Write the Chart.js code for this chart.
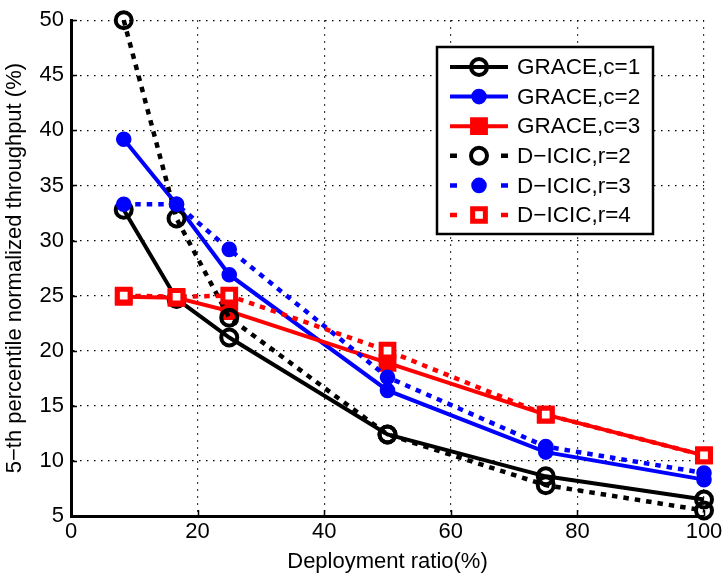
<!DOCTYPE html>
<html>
<head>
<meta charset="utf-8">
<script src="https://cdn.jsdelivr.net/npm/chart.js@4.4.1/dist/chart.umd.min.js"></script>
<style>
  html, body { margin: 0; padding: 0; background: #fff; }
  #wrap { width: 726px; height: 577px; }
</style>
</head>
<body>
<div id="wrap"><canvas id="c" width="726" height="577"></canvas></div>
<script>
// Deployment ratio (%) at which each scheme was evaluated
const deploymentRatio = [8.33, 16.67, 25, 50, 75, 100];

// 5-th percentile normalized throughput (%)
const graceC1 = [32.8, 24.7, 21.2, 12.4, 8.6, 6.5];
const graceC2 = [39.2, 33.3, 26.9, 16.4, 10.8, 8.3];
const graceC3 = [24.9, 24.8, 23.6, 18.9, 14.2, 10.5];
const dicicR2 = [50.0, 32.0, 23.0, 12.4, 7.8, 5.5];
const dicicR3 = [33.3, 33.3, 29.2, 17.6, 11.3, 8.9];
const dicicR4 = [25.0, 24.9, 25.0, 20.0, 14.2, 10.5];

const seriesNames = ['GRACE,c=1', 'GRACE,c=2', 'GRACE,c=3', 'D\u2212ICIC,r=2', 'D\u2212ICIC,r=3', 'D\u2212ICIC,r=4'];

const xTicks = [0, 20, 40, 60, 80, 100];
const yTicks = [5, 10, 15, 20, 25, 30, 35, 40, 45, 50];

const FONT = '"Liberation Sans", Arial, Helvetica, sans-serif';
const DOT = [5.5, 6];

function pts(ys) {
  return deploymentRatio.map((x, i) => ({ x: x, y: ys[i] }));
}

function series(label, ys, color, dashed, style, fill, radius, bw, order) {
  return {
    label: label,
    data: pts(ys),
    showLine: true,
    borderColor: color,
    borderWidth: dashed ? 4.5 : 4,
    borderDash: dashed ? DOT : [],
    borderCapStyle: 'butt',
    borderJoinStyle: 'miter',
    tension: 0,
    pointStyle: style,
    pointRadius: radius,
    pointHoverRadius: radius,
    pointBorderWidth: bw,
    pointBorderColor: color,
    pointBackgroundColor: fill,
    clip: false,
    order: order,
    dotted: dashed
  };
}

const datasets = [
  series(seriesNames[0], graceC1, '#000000', false, 'circle', 'rgba(0,0,0,0)', 8, 4, 6),
  series(seriesNames[1], graceC2, '#0000ff', false, 'circle', '#0000ff', 6.8, 2, 5),
  series(seriesNames[2], graceC3, '#ff0000', false, 'rect', '#ff0000', 10.5, 3, 4),
  series(seriesNames[3], dicicR2, '#000000', true, 'circle', 'rgba(0,0,0,0)', 8, 4, 3),
  series(seriesNames[4], dicicR3, '#0000ff', true, 'circle', '#0000ff', 6.8, 2, 2),
  series(seriesNames[5], dicicR4, '#ff0000', true, 'rect', '#ffffff', 9, 5, 1)
];

// Small inward tick marks on the left and bottom axes
const innerTicks = {
  id: 'innerTicks',
  afterDatasetsDraw(chart) {
    const { ctx, chartArea: a, scales } = chart;
    ctx.save();
    ctx.strokeStyle = '#000';
    ctx.lineWidth = 1.5;
    ctx.beginPath();
    xTicks.forEach(v => {
      const px = Math.round(scales.x.getPixelForValue(v)) + 0.5;
      ctx.moveTo(px, a.bottom);
      ctx.lineTo(px, a.bottom - 6);
    });
    yTicks.forEach(v => {
      const py = Math.round(scales.y.getPixelForValue(v)) + 0.5;
      ctx.moveTo(a.left, py);
      ctx.lineTo(a.left + 6, py);
    });
    ctx.stroke();
    ctx.restore();
  }
};

// Boxed legend inside the plot, with a line sample and marker per series
const boxLegend = {
  id: 'boxLegend',
  afterDraw(chart) {
    const ctx = chart.ctx;
    const bx = 437, by = 47, bw = 216, bh = 187;
    ctx.save();
    ctx.fillStyle = '#fff';
    ctx.fillRect(bx, by, bw, bh);
    ctx.strokeStyle = '#000';
    ctx.lineWidth = 2.5;
    ctx.strokeRect(bx, by, bw, bh);
    const rowY0 = 67, rowStep = 29.6;
    const x0 = 450, x1 = 508, xm = 479;
    chart.data.datasets.forEach((ds, i) => {
      const y = rowY0 + i * rowStep;
      ctx.strokeStyle = ds.borderColor;
      ctx.lineWidth = ds.borderWidth;
      ctx.lineCap = 'butt';
      ctx.setLineDash([]);
      ctx.beginPath();
      if (ds.dotted) {
        ctx.moveTo(x0, y); ctx.lineTo(x0 + 7, y);
        ctx.moveTo(x1 - 7, y); ctx.lineTo(x1, y);
      } else {
        ctx.moveTo(x0, y); ctx.lineTo(x1, y);
      }
      ctx.stroke();
      ctx.fillStyle = ds.pointBackgroundColor;
      ctx.strokeStyle = ds.pointBorderColor;
      ctx.lineWidth = ds.pointBorderWidth;
      Chart.helpers.drawPoint(ctx, {
        pointStyle: ds.pointStyle,
        rotation: 0,
        radius: ds.pointRadius,
        borderWidth: ds.pointBorderWidth
      }, xm, y);
      ctx.fillStyle = '#000';
      ctx.font = '22.5px ' + FONT;
      ctx.textBaseline = 'middle';
      ctx.textAlign = 'left';
      ctx.fillText(ds.label, 517, y + 1);
    });
    ctx.restore();
  }
};

new Chart(document.getElementById('c'), {
  type: 'scatter',
  data: { datasets: datasets },
  plugins: [innerTicks, boxLegend],
  options: {
    responsive: false,
    animation: false,
    devicePixelRatio: 1,
    layout: { padding: { top: 16, right: 22, left: 0, bottom: 0 } },
    plugins: {
      legend: { display: false },
      tooltip: { enabled: false }
    },
    scales: {
      x: {
        type: 'linear',
        min: 0,
        max: 100,
        afterBuildTicks(scale) { scale.ticks = xTicks.map(v => ({ value: v })); },
        afterFit(scale) { scale.height = 61; },
        ticks: {
          color: '#000',
          font: { family: FONT, size: 22 },
          padding: 3,
          maxRotation: 0
        },
        grid: { color: '#000', lineWidth: 1.2, drawTicks: false },
        border: { display: true, color: '#000', width: 3, dash: [1.5, 5.5] },
        title: {
          display: true,
          text: 'Deployment ratio(%)',
          color: '#000',
          font: { family: FONT, size: 22 },
          padding: { top: 0, bottom: 2 }
        }
      },
      y: {
        type: 'linear',
        min: 5,
        max: 50,
        afterBuildTicks(scale) { scale.ticks = yTicks.map(v => ({ value: v })); },
        afterFit(scale) { scale.width = 71; },
        ticks: {
          color: '#000',
          font: { family: FONT, size: 22 },
          padding: 7
        },
        grid: { color: '#000', lineWidth: 1.2, drawTicks: false },
        border: { display: true, color: '#000', width: 3, dash: [1.5, 5.5] },
        title: {
          display: true,
          text: '5\u2212th percentile normalized throughput (%)',
          color: '#000',
          font: { family: FONT, size: 22 },
          padding: { top: 2, bottom: 0 }
        }
      }
    }
  }
});
</script>
</body>
</html>
